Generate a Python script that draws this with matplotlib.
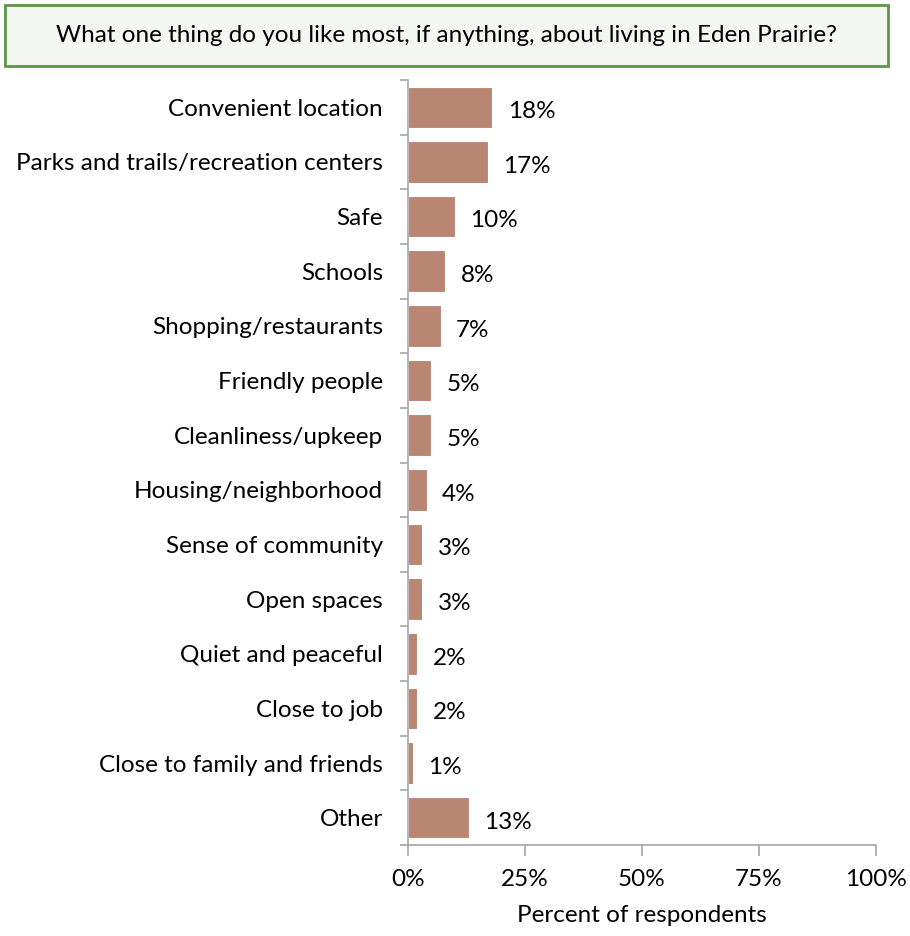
import matplotlib.pyplot as plt
import numpy as np
from matplotlib.patches import Rectangle
from matplotlib.ticker import FixedLocator

categories = [
    "Convenient location",
    "Parks and trails/recreation centers",
    "Safe",
    "Schools",
    "Shopping/restaurants",
    "Friendly people",
    "Cleanliness/upkeep",
    "Housing/neighborhood",
    "Sense of community",
    "Open spaces",
    "Quiet and peaceful",
    "Close to job",
    "Close to family and friends",
    "Other",
]
percent = [18, 17, 10, 8, 7, 5, 5, 4, 3, 3, 2, 2, 1, 13]
x_ticks = [0, 25, 50, 75, 100]

title = "What one thing do you like most, if anything, about living in Eden Prairie?"

plt.rcParams["font.family"] = ["Lato", "DejaVu Sans"]

BAR = "#B98673"
AXIS = "#A6A6A6"
FS = 17.5

fig = plt.figure(figsize=(9.1, 9.36), dpi=100)
ax = fig.add_axes([408 / 910, 1 - 845 / 936, 468 / 910, 765 / 936])

y = np.arange(len(categories))
ax.barh(y, percent, height=0.76, color=BAR, edgecolor="white", linewidth=0.8)
for yi, v in zip(y, percent):
    ax.text(v + 3.3, yi + 0.08, f"{v}%", va="center", ha="left", fontsize=FS)

ax.set_xlim(0, 100)
ax.set_ylim(len(categories) - 0.5, -0.5)
ax.set_yticks(y)
ax.set_yticklabels(categories, fontsize=FS)
ax.yaxis.set_minor_locator(FixedLocator(np.arange(len(categories) + 1) - 0.5))
ax.tick_params(axis="y", which="major", length=0, pad=18)
ax.tick_params(axis="y", which="minor", length=6, color=AXIS, width=1.2)

ax.set_xticks(x_ticks)
ax.set_xticklabels([f"{t}%" for t in x_ticks], fontsize=FS)
ax.tick_params(axis="x", length=8, color=AXIS, width=1.2, pad=9)
ax.set_xlabel("Percent of respondents", fontsize=FS, labelpad=11)

for side in ("top", "right"):
    ax.spines[side].set_visible(False)
for side in ("left", "bottom"):
    ax.spines[side].set_color(AXIS)
    ax.spines[side].set_linewidth(1.2)

# question box above the plot
fig.patches.append(Rectangle((5 / 910, 1 - 66 / 936), 883 / 910, 61 / 936,
                             transform=fig.transFigure, facecolor="#F4F7F1",
                             edgecolor="#5E9548", linewidth=2))
fig.text(446 / 910, 1 - 36 / 936, title, ha="center", va="center", fontsize=FS)

fig.savefig("out.png", dpi=100)
